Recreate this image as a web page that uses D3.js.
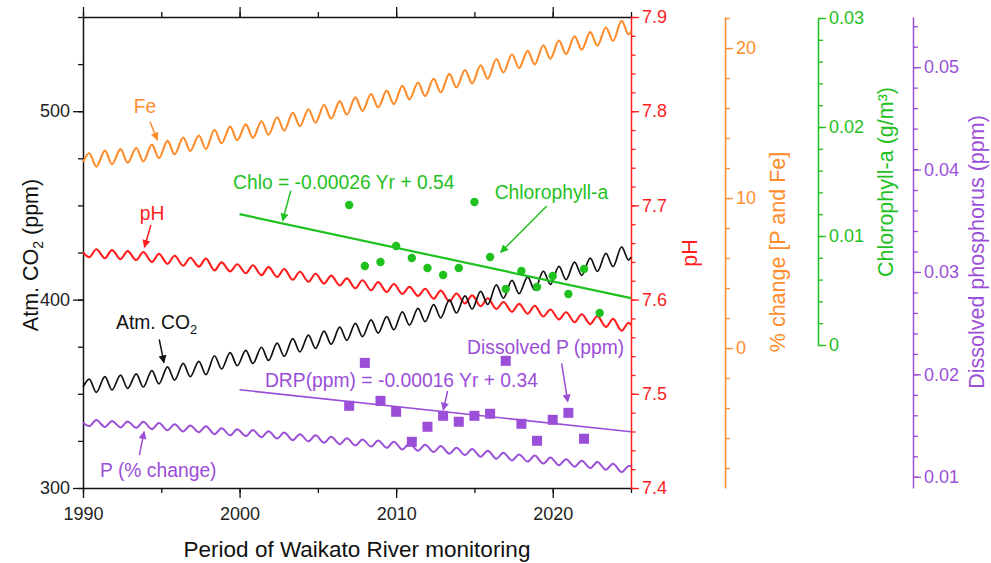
<!DOCTYPE html>
<html><head><meta charset="utf-8">
<script src="https://cdn.jsdelivr.net/npm/d3@7"></script>
<style>
body{margin:0;background:#fff}
text{font-family:"Liberation Sans",Arial,sans-serif}
</style>
</head><body>
<svg id="c" width="991" height="563"></svg>
<script>
// ---------- DATA ----------
const years = d3.range(1990, 2025);          // seasonal-wave years
const xMajorTicks = [1990, 2000, 2010, 2020];
const co2Ticks = [300, 400, 500];
const phTicks = [7.4, 7.5, 7.6, 7.7, 7.8, 7.9];
const pctTicks = [0, 10, 20];
const chlTicks = [0, 0.01, 0.02, 0.03];
const dpTicks = [0.01, 0.02, 0.03, 0.04, 0.05];

// Atm. CO2 (ppm): seasonal maxima / minima per year, plus start/end values
const co2Peak = [357.8,359.1,359.9,360.6,362.3,364.3,366.1,367.2,370.2,371.9,373.1,374.7,376.9,379.3,381.1,383.3,385.4,387.4,389.2,391.0,393.5,395.3,397.3,399.9,402.0,404.4,407.8,410.2,412.1,415.1,417.6,419.9,422.0,424.5,428.0];
const co2Trough = [350.8,352.1,352.9,353.6,355.3,357.3,359.1,360.2,363.2,364.9,366.1,367.7,369.9,372.3,374.1,376.3,378.4,380.4,382.2,384.0,386.5,388.3,390.3,392.9,395.0,397.4,400.8,403.2,405.1,408.1,410.6,412.9,415.0,417.5,421.0];
const co2Edge = [353.5, 422.5];

// Fe (% change)
const fePeak = [12.99,13.16,13.26,13.34,13.56,13.81,14.04,14.17,14.55,14.76,14.91,15.12,15.39,15.69,15.92,16.20,16.46,16.71,16.94,17.16,17.48,17.70,17.95,18.28,18.54,18.85,19.27,19.57,19.81,20.19,20.50,20.79,21.06,21.37,21.81];
const feTrough = [12.09,12.26,12.36,12.44,12.66,12.91,13.14,13.27,13.65,13.86,14.01,14.22,14.49,14.79,15.02,15.30,15.56,15.81,16.04,16.26,16.58,16.80,17.05,17.38,17.64,17.95,18.37,18.67,18.91,19.29,19.60,19.89,20.16,20.47,20.91];
const feEdge = [12.40, 21.10];

// pH
const phLow = [7.645,7.644,7.643,7.642,7.640,7.638,7.636,7.635,7.631,7.630,7.628,7.626,7.624,7.621,7.619,7.617,7.615,7.612,7.610,7.608,7.606,7.604,7.601,7.598,7.596,7.593,7.590,7.587,7.585,7.582,7.579,7.576,7.574,7.571,7.567];
const phHigh = [7.6535,7.6525,7.6515,7.6505,7.6485,7.6465,7.6445,7.6435,7.6395,7.6375,7.6365,7.6345,7.6325,7.6295,7.6275,7.6255,7.6225,7.6205,7.6185,7.6165,7.6135,7.6115,7.6095,7.6065,7.6045,7.6015,7.5975,7.5955,7.5935,7.5895,7.5865,7.5845,7.5825,7.5795,7.5755];
const phEdge = [7.650, 7.573];

// P (% change)
const pLow = [-5.20,-5.26,-5.29,-5.32,-5.40,-5.48,-5.56,-5.61,-5.74,-5.82,-5.87,-5.94,-6.03,-6.14,-6.22,-6.31,-6.41,-6.49,-6.57,-6.65,-6.76,-6.84,-6.93,-7.04,-7.13,-7.24,-7.38,-7.49,-7.57,-7.70,-7.81,-7.91,-8.00,-8.11,-8.27];
const pHigh = [-4.80,-4.86,-4.89,-4.92,-5.00,-5.08,-5.16,-5.21,-5.34,-5.42,-5.47,-5.54,-5.63,-5.74,-5.82,-5.91,-6.01,-6.09,-6.17,-6.25,-6.36,-6.44,-6.53,-6.64,-6.73,-6.84,-6.98,-7.09,-7.17,-7.30,-7.41,-7.51,-7.60,-7.71,-7.87];
const pEdge = [-4.98, -7.86];

// Chlorophyll-a (g/m3) observations
const chlYears = [2007,2008,2009,2010,2011,2012,2013,2014,2015,2016,2017,2018,2019,2020,2021,2022,2023];
const chlValues = [0.01284,0.00725,0.00761,0.00908,0.00798,0.00706,0.00642,0.00706,0.01312,0.00807,0.00514,0.00679,0.00532,0.00633,0.00468,0.00697,0.00294];
const chlTrendYears = [2000, 2025];
const chlTrendValues = [0.0120, 0.0043];

// Dissolved P (ppm) observations
const dpYears = [2007,2008,2009,2010,2011,2012,2013,2014,2015,2016,2017,2018,2019,2020,2021,2022];
const dpValues = [0.01693,0.02112,0.01741,0.01634,0.01341,0.01488,0.01595,0.01537,0.01595,0.01615,0.02132,0.01517,0.01351,0.01556,0.01624,0.01371];
const drpTrendYears = [2000, 2025];
const drpTrendValues = [0.01849, 0.01439];

// ---------- STYLE / LAYOUT ----------
const C = {black:"#111", red:"#ff1e1e", orange:"#ff8c2a", green:"#1fc11f", purple:"#9b4ed8"};
const L = 83, R = 631, T = 17, B = 488;
const svg = d3.select("#c");

const x = d3.scaleLinear([1990, 2025], [L, R]);
const yCO2 = d3.scaleLinear([300, 550], [B, T]);
const yPH = d3.scaleLinear([7.4, 7.9], [B, T]);
const yPct = d3.scaleLinear([-9.33, 22.07], [B, T]);
const yChl = d3.scaleLinear([0, 0.03], [345, 18]);
const yDP = d3.scaleLinear([0.0089, 0.0549], [B, T]);

// markers
const defs = svg.append("defs");
Object.entries(C).forEach(([k, col]) => {
  defs.append("marker").attr("id", "ah-" + k).attr("viewBox", "0 0 10 10")
    .attr("refX", 9).attr("refY", 5).attr("markerWidth", 10).attr("markerHeight", 8)
    .attr("markerUnits", "userSpaceOnUse").attr("orient", "auto")
    .append("path").attr("d", "M0,0L10,5L0,10z").attr("fill", col);
});

// ---------- AXES ----------
const TICK_FS = 18;
function styleAxis(g, col) {
  g.selectAll("path.domain").attr("stroke", col).attr("stroke-width", 1.5);
  g.selectAll(".tick line").attr("stroke", col).attr("stroke-width", 1.3);
  g.selectAll(".tick text").attr("fill", col === C.black ? "#222" : col)
    .style("font-size", TICK_FS + "px").style("font-family", '"Liberation Sans",Arial,sans-serif');
}
function yAxisPair(axisFn, scale, major, minor, xPos, col, fmt, majorLen, minorLen) {
  const gm = svg.append("g").attr("transform", `translate(${xPos},0)`)
    .call(axisFn(scale).tickValues(minor).tickSize(minorLen).tickSizeOuter(0).tickFormat(""));
  styleAxis(gm, col);
  const g = svg.append("g").attr("transform", `translate(${xPos},0)`)
    .call(axisFn(scale).tickValues(major).tickSize(majorLen).tickSizeOuter(0).tickPadding(3).tickFormat(fmt));
  styleAxis(g, col);
  g.select("path.domain").remove();
  return g;
}

// bottom & top x-axes
const xMinor = d3.range(1990, 2026, 5);
const gxm = svg.append("g").attr("transform", `translate(0,${B})`)
  .call(d3.axisBottom(x).tickValues(xMinor).tickSize(5).tickSizeOuter(0).tickFormat(""));
styleAxis(gxm, C.black);
const gx = svg.append("g").attr("transform", `translate(0,${B})`)
  .call(d3.axisBottom(x).tickValues(xMajorTicks).tickSize(10).tickSizeOuter(0).tickPadding(9).tickFormat(d3.format("d")));
styleAxis(gx, C.black); gx.select("path.domain").remove();
const gtm = svg.append("g").attr("transform", `translate(0,${T})`)
  .call(d3.axisTop(x).tickValues(xMinor).tickSize(5).tickSizeOuter(0).tickFormat(""));
styleAxis(gtm, C.black);
const gt = svg.append("g").attr("transform", `translate(0,${T})`)
  .call(d3.axisTop(x).tickValues(xMajorTicks).tickSize(10).tickSizeOuter(0).tickFormat(""));
styleAxis(gt, C.black); gt.select("path.domain").remove();

// left CO2 axis
yAxisPair(d3.axisLeft, yCO2, co2Ticks, d3.range(300, 551, 25), L, C.black, d3.format("d"), 10, 5);
// right pH axis
yAxisPair(d3.axisRight, yPH, phTicks, d3.range(7.4, 7.9001, 0.02), R, C.red, d3.format(".1f"), 8, 4.5);
// % change axis
yAxisPair(d3.axisRight, yPct, pctTicks, d3.range(-8, 22.01, 2), 725, C.orange, d3.format("d"), 8, 5);
// chlorophyll axis
yAxisPair(d3.axisRight, yChl, chlTicks, d3.range(0, 0.03001, 0.002), 818, C.green, d => d === 0 ? "0" : d3.format(".2f")(d), 8, 5);
// dissolved phosphorus axis
yAxisPair(d3.axisRight, yDP, dpTicks, d3.range(0.01, 0.05401, 0.002), 913, C.purple, d3.format(".2f"), 8, 5);

// axis titles
function vTitle(xp, yp, col) {
  return svg.append("text").attr("transform", `translate(${xp},${yp}) rotate(-90)`)
    .attr("text-anchor", "middle").attr("dy", "0.35em").attr("fill", col).style("font-size", "21.5px");
}
const t1 = vTitle(30, 255, "#111");
t1.append("tspan").text("Atm. CO");
t1.append("tspan").text("2").style("font-size", "14px").attr("dy", 5);
t1.append("tspan").text(" (ppm)").attr("dy", -5);
vTitle(689, 253, C.red).text("pH");
vTitle(777, 252, C.orange).text("% change [P and Fe]");
vTitle(885, 182, C.green).text("Chlorophyll-a (g/m³)");
vTitle(976, 252, C.purple).text("Dissolved phosphorus (ppm)");
svg.append("text").attr("x", 357).attr("y", 557).attr("text-anchor", "middle")
  .attr("fill", "#111").style("font-size", "22.5px").text("Period of Waikato River monitoring");

// ---------- SERIES ----------
function wave(a, b, edge) {
  const pts = [{t: 1990, v: edge[0]}];
  years.forEach((yr, i) => { pts.push({t: yr + 0.4, v: a[i]}); pts.push({t: yr + 0.85, v: b[i]}); });
  pts.push({t: 2025, v: edge[1]});
  return pts;
}
function drawWave(pts, ys, col, w) {
  svg.append("path").datum(pts).attr("fill", "none").attr("stroke", col).attr("stroke-width", w)
    .attr("stroke-linejoin", "round")
    .attr("d", d3.line().x(d => x(d.t)).y(d => ys(d.v)).curve(d3.curveMonotoneX));
}
drawWave(wave(fePeak, feTrough, feEdge), yPct, C.orange, 2.1);
drawWave(wave(phLow, phHigh, phEdge), yPH, C.red, 2.1);
drawWave(wave(co2Peak, co2Trough, co2Edge), yCO2, C.black, 1.7);
drawWave(wave(pLow, pHigh, pEdge), yPct, C.purple, 2);

// trend lines
const trend = (yrs, vals) => yrs.map((t, i) => ({t, v: vals[i]}));
svg.append("path").datum(trend(chlTrendYears, chlTrendValues)).attr("fill", "none")
  .attr("stroke", C.green).attr("stroke-width", 2.2)
  .attr("d", d3.line().x(d => x(d.t)).y(d => yChl(d.v)));
svg.append("path").datum(trend(drpTrendYears, drpTrendValues)).attr("fill", "none")
  .attr("stroke", C.purple).attr("stroke-width", 1.6)
  .attr("d", d3.line().x(d => x(d.t)).y(d => yDP(d.v)));

// points
svg.append("g").selectAll("circle").data(chlYears.map((t, i) => ({t, v: chlValues[i]})))
  .join("circle").attr("cx", d => x(d.t)).attr("cy", d => yChl(d.v)).attr("r", 4.2).attr("fill", C.green);
const sq = 10;
svg.append("g").selectAll("rect").data(dpYears.map((t, i) => ({t, v: dpValues[i]})))
  .join("rect").attr("x", d => x(d.t) - sq / 2).attr("y", d => yDP(d.v) - sq / 2)
  .attr("width", sq).attr("height", sq).attr("fill", C.purple);

// ---------- ANNOTATIONS (positions in year / CO2 units) ----------
const notes = [
  {txt: "Fe", col: "orange", at: [1993.96, 502.8], anchor: "middle", arrow: [[1994.28, 494.4], [1994.75, 484.7]]},
  {txt: "pH", col: "red", at: [1994.41, 446.0], anchor: "middle", arrow: [[1994.34, 439.6], [1993.92, 427.8]]},
  {txt: "Chlo = -0.00026 Yr + 0.54", col: "green", at: [1999.58, 462.4], anchor: "start", arrow: [[2003.27, 457.8], [2002.75, 441.9]]},
  {txt: "Chlorophyll-a", col: "green", at: [2019.92, 457.1], anchor: "middle", arrow: [[2019.62, 449.7], [2016.68, 425.1]]},
  {txt: "CO2", col: "black", at: [1992.11, 388.1], anchor: "start", arrow: [[1994.87, 378.9], [1995.17, 366.5]]},
  {txt: "DRP(ppm) = -0.00016 Yr + 0.34", col: "purple", at: [2001.62, 357.3], anchor: "start", arrow: [[2013.29, 351.5], [2013.01, 341.4]]},
  {txt: "Dissolved P (ppm)", col: "purple", at: [2014.53, 374.8], anchor: "start", arrow: [[2020.57, 366.2], [2020.96, 345.8]]},
  {txt: "P (% change)", col: "purple", at: [1991.09, 309.6], anchor: "start", arrow: [[1993.60, 317.5], [1993.90, 329.9]]}
];
notes.forEach(n => {
  const t = svg.append("text").attr("x", x(n.at[0])).attr("y", yCO2(n.at[1])).attr("dy", "0.35em")
    .attr("text-anchor", n.anchor).attr("fill", n.col === "black" ? "#111" : C[n.col]).style("font-size", "19.3px");
  if (n.txt === "CO2") {
    t.append("tspan").text("Atm. CO");
    t.append("tspan").text("2").style("font-size", "13px").attr("dy", 5);
  } else t.text(n.txt);
  svg.append("line").attr("x1", x(n.arrow[0][0])).attr("y1", yCO2(n.arrow[0][1]))
    .attr("x2", x(n.arrow[1][0])).attr("y2", yCO2(n.arrow[1][1]))
    .attr("stroke", C[n.col]).attr("stroke-width", 1.5).attr("marker-end", `url(#ah-${n.col})`);
});
</script>
</body></html>
